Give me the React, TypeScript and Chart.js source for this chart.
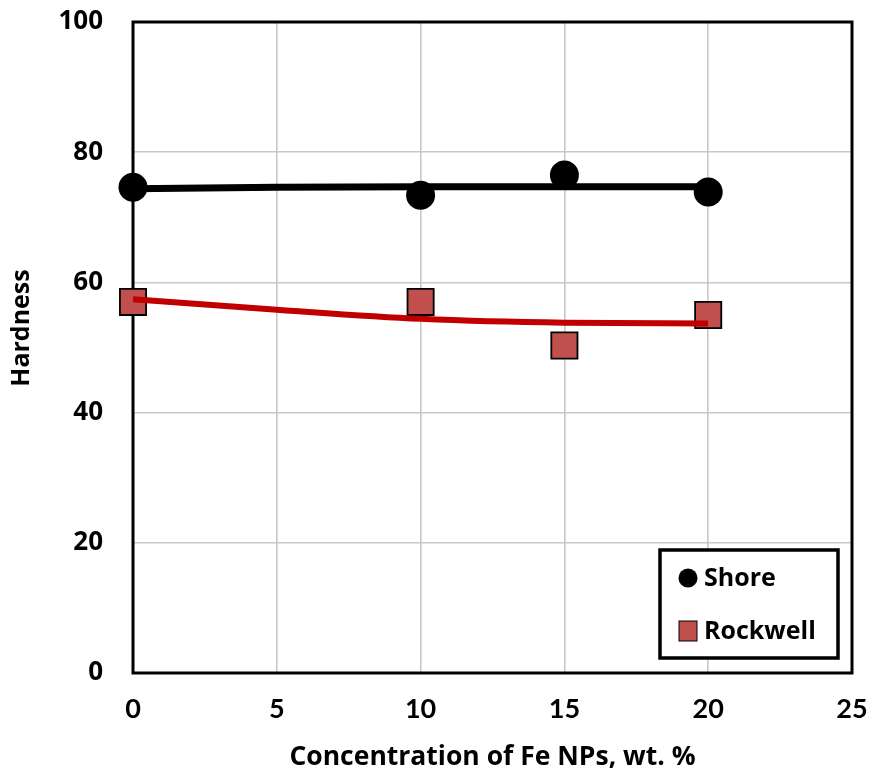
import React, { useEffect, useRef } from "react";
import { Chart, registerables } from "chart.js";

Chart.register(...registerables);

const xValues = [0, 10, 15, 20];
const shoreValues = [74.6, 73.4, 76.5, 73.9];
const rockwellValues = [57.0, 57.0, 50.3, 55.0];
const fitX = [0, 5, 10, 15, 20];
const shoreFit = [74.4, 74.6, 74.7, 74.7, 74.7];
const rockwellFit = [57.4, 55.8, 54.4, 53.8, 53.7];
const xTickValues = [0, 5, 10, 15, 20, 25];
const yTickValues = [0, 20, 40, 60, 80, 100];
const xTitle = "Concentration of Fe NPs, wt. %";
const yTitle = "Hardness";

const framePlugin = {
  id: "frame",
  beforeDatasetsDraw(chart: any) {
    const { ctx, chartArea } = chart;
    ctx.save();
    ctx.strokeStyle = "#000";
    ctx.lineWidth = 3;
    ctx.strokeRect(chartArea.left, chartArea.top, chartArea.right - chartArea.left, chartArea.bottom - chartArea.top);
    ctx.restore();
  },
};

const yTitlePlugin = {
  id: "yTitle",
  afterDraw(chart: any) {
    const { ctx } = chart;
    ctx.save();
    ctx.translate(22, 328);
    ctx.rotate(-Math.PI / 2);
    ctx.font = "bold 25px 'Open Sans'";
    ctx.fillStyle = "#000";
    ctx.textAlign = "center";
    ctx.textBaseline = "middle";
    ctx.fillText(yTitle, 0, 0);
    ctx.restore();
  },
};

const legendPlugin = {
  id: "boxLegend",
  afterDatasetsDraw(chart: any) {
    const { ctx, chartArea } = chart;
    const items = chart.data.datasets.filter((d: any) => !d.isTrend);
    const w = 178;
    const h = 108;
    const right = chartArea.right - 14;
    const bottom = chartArea.bottom - 15;
    const left = right - w;
    const top = bottom - h;
    ctx.save();
    ctx.fillStyle = "#fff";
    ctx.fillRect(left, top, w, h);
    ctx.strokeStyle = "#000";
    ctx.lineWidth = 3.5;
    ctx.strokeRect(left, top, w, h);
    ctx.font = "bold 25px 'Open Sans'";
    ctx.textBaseline = "middle";
    ctx.textAlign = "left";
    items.forEach((d: any, i: number) => {
      const cy = top + 28 + i * 53;
      const cx = left + 28;
      ctx.fillStyle = d.backgroundColor;
      ctx.strokeStyle = d.borderColor;
      ctx.lineWidth = 1;
      if (d.pointStyle === "rect") {
        ctx.fillRect(cx - 9, cy - 10, 18, 20);
        ctx.strokeRect(cx - 9, cy - 10, 18, 20);
      } else {
        ctx.beginPath();
        ctx.arc(cx, cy, 9.5, 0, Math.PI * 2);
        ctx.fill();
      }
      ctx.fillStyle = "#000";
      ctx.fillText(d.label, cx + 16, cy + 1);
    });
    ctx.restore();
  },
};

export default function App() {
  const ref = useRef<HTMLCanvasElement | null>(null);
  useEffect(() => {
    if (!ref.current) return;
    const chart = new Chart(ref.current, {
      type: "scatter",
      data: {
        datasets: [
          {
            label: "Shore fit",
            isTrend: true,
            data: fitX.map((x, i) => ({ x, y: shoreFit[i] })),
            showLine: true,
            borderColor: "#000",
            borderWidth: 7,
            pointRadius: 0,
            cubicInterpolationMode: "monotone",
            clip: false,
            order: 0,
          } as any,
          {
            label: "Rockwell fit",
            isTrend: true,
            data: fitX.map((x, i) => ({ x, y: rockwellFit[i] })),
            showLine: true,
            borderColor: "#C00000",
            borderWidth: 6,
            pointRadius: 0,
            cubicInterpolationMode: "monotone",
            clip: false,
            order: 0,
          } as any,
          {
            label: "Shore",
            data: xValues.map((x, i) => ({ x, y: shoreValues[i] })),
            backgroundColor: "#000",
            borderColor: "#000",
            borderWidth: 0,
            pointStyle: "circle",
            pointRadius: 14.5,
            clip: false,
            order: 1,
          } as any,
          {
            label: "Rockwell",
            data: xValues.map((x, i) => ({ x, y: rockwellValues[i] })),
            backgroundColor: "#C0504D",
            borderColor: "#000",
            borderWidth: 1.8,
            pointStyle: "rect",
            pointRadius: 18.5,
            clip: false,
            order: 1,
          } as any,
        ],
      },
      options: {
        responsive: false,
        animation: false,
        devicePixelRatio: 1,
        layout: { autoPadding: false, padding: { left: 0, top: 22, right: 21, bottom: 0 } },
        plugins: { legend: { display: false }, tooltip: { enabled: false } },
        scales: {
          x: {
            type: "linear",
            min: 0,
            max: 25,
            afterBuildTicks: (s: any) => {
              s.ticks = xTickValues.map((v) => ({ value: v }));
            },
            afterFit: (s: any) => {
              s.height = 100;
              s.paddingLeft = 0;
              s.paddingRight = 0;
            },
            grid: { color: "#C8C8C8", lineWidth: 1.6, drawTicks: false },
            border: { display: false },
            ticks: {
              padding: 20,
              color: "#000",
              font: { family: "Lato", weight: "bold", size: 27 },
            },
            title: {
              display: true,
              text: xTitle,
              color: "#000",
              font: { family: "Open Sans", weight: "bold", size: 26.5 },
              padding: { top: 0, bottom: 0 },
            },
          },
          y: {
            type: "linear",
            min: 0,
            max: 100,
            afterBuildTicks: (s: any) => {
              s.ticks = yTickValues.map((v) => ({ value: v }));
            },
            afterFit: (s: any) => {
              s.width = 133;
              s.paddingTop = 0;
              s.paddingBottom = 0;
            },
            grid: { color: "#C8C8C8", lineWidth: 1.6, drawTicks: false },
            border: { display: false },
            ticks: {
              padding: 30,
              color: "#000",
              font: { family: "Open Sans", weight: "bold", size: 26 },
            },
          },
        },
      },
      plugins: [framePlugin, yTitlePlugin, legendPlugin],
    });
    return () => chart.destroy();
  }, []);
  return (
    <div style={{ position: "absolute", left: 0, top: 0, width: 873, height: 773, background: "#fff" }}>
      <canvas ref={ref} width={873} height={773} />
    </div>
  );
}
